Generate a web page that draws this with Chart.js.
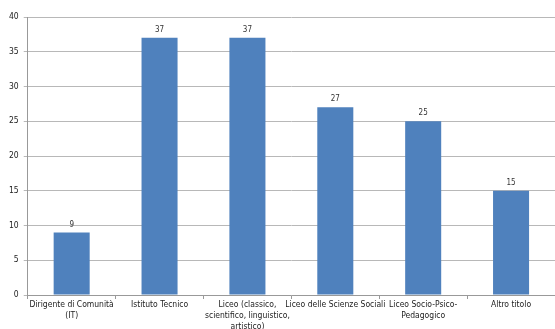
<!DOCTYPE html>
<html>
<head>
<meta charset="utf-8">
<script src="https://cdn.jsdelivr.net/npm/chart.js@4"></script>
<style>
  html, body { margin: 0; padding: 0; background: #fff; }
  #wrap { width: 555px; height: 329px; }
</style>
</head>
<body>
<div id="wrap"><canvas id="myChart"></canvas></div>
<script>
const categories = [
    ['Dirigente di Comunità', '(IT)'],
    'Istituto Tecnico',
    ['Liceo (classico,', 'scientifico, linguistico,', 'artistico)'],
    'Liceo delle Scienze Sociali',
    ['Liceo Socio-Psico-', 'Pedagogico'],
    'Altro titolo'
];
const values = [9, 37, 37, 27, 25, 15];
const yTicks = [0, 5, 10, 15, 20, 25, 30, 35, 40];

const FONT = '"DejaVu Sans Condensed", "Liberation Sans", Arial, sans-serif';

// numeri sopra le barre
const valueLabels = {
    id: 'valueLabels',
    afterDatasetsDraw(chart) {
        const c = chart.ctx;
        const meta = chart.getDatasetMeta(0);
        c.save();
        c.font = '8px ' + FONT;
        c.fillStyle = '#333';
        c.textAlign = 'center';
        c.textBaseline = 'bottom';
        meta.data.forEach((bar, i) => {
            c.fillText(values[i], bar.x, bar.y - 4);
        });
        c.restore();
    }
};

const ctx = document.getElementById('myChart').getContext('2d');
new Chart(ctx, {
    type: 'bar',
    data: {
        labels: categories,
        datasets: [{
            data: values,
            backgroundColor: '#4f81bd',
            borderWidth: 0,
            categoryPercentage: 1,
            barPercentage: 0.41
        }]
    },
    options: {
        responsive: true,
        maintainAspectRatio: false,
        animation: false,
        layout: { padding: { top: 17, right: 0, left: 4, bottom: 0 } },
        plugins: {
            legend: { display: false },
            tooltip: { enabled: false }
        },
        scales: {
            x: {
                afterFit: (axis) => { axis.height = 34; },
                grid: {
                    display: true,
                    drawOnChartArea: false,
                    offset: true,
                    tickLength: 4,
                    color: '#999'
                },
                border: { color: '#999' },
                ticks: {
                    color: '#222',
                    font: { family: FONT, size: 8.5, lineHeight: 1.3 },
                    maxRotation: 0,
                    autoSkip: false,
                    padding: 0
                }
            },
            y: {
                min: 0,
                max: 40,
                afterBuildTicks: (axis) => { axis.ticks = yTicks.map(v => ({ value: v })); },
                grid: {
                    color: '#b8b8b8',
                    tickLength: 4
                },
                border: { color: '#999' },
                ticks: {
                    color: '#222',
                    font: { family: FONT, size: 8.5 },
                    padding: 5
                }
            }
        }
    },
    plugins: [valueLabels]
});
</script>
</body>
</html>
